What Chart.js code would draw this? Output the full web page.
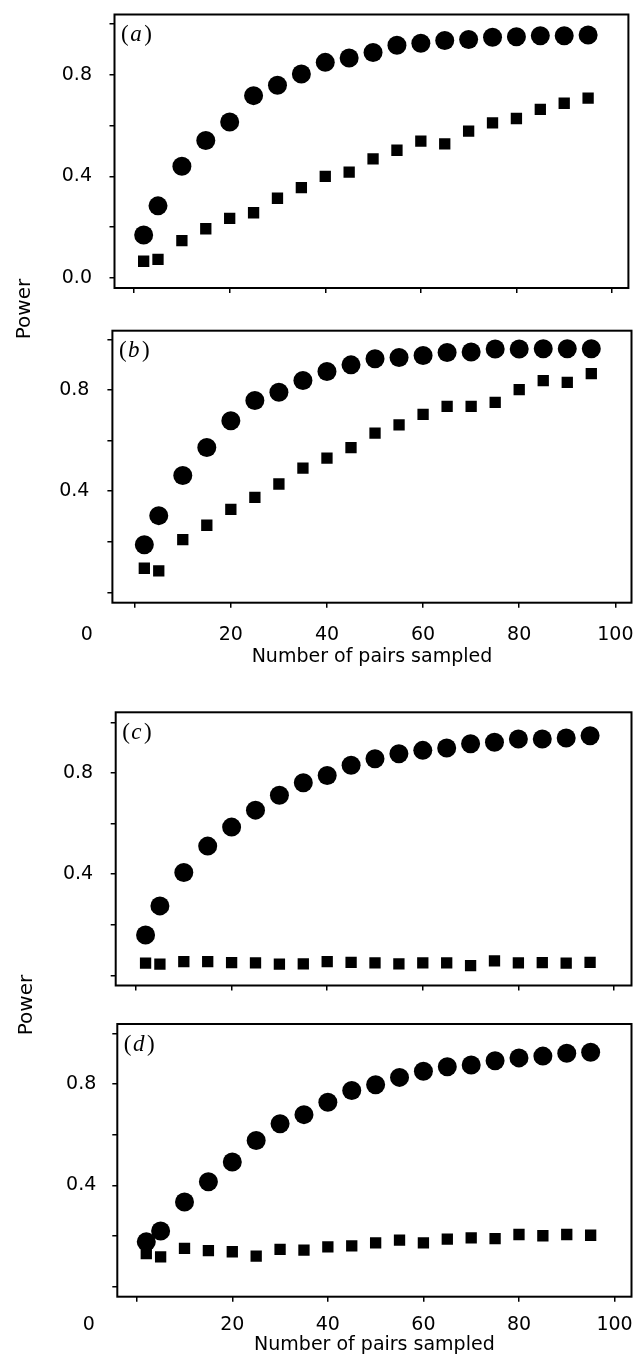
<!DOCTYPE html>
<html>
<head>
<meta charset="utf-8">
<script src="https://cdn.jsdelivr.net/npm/chart.js@4/dist/chart.umd.min.js"></script>
<style>
html, body { margin: 0; padding: 0; background: #fff; }
#page { position: relative; width: 641px; height: 1363px; background: #fff; overflow: hidden; }
#page canvas { position: absolute; left: 0; }
.ylab { position: absolute; width: 100px; height: 20px; line-height: 20px; text-align: center;
        font-family: 'DejaVu Sans', sans-serif; font-size: 20px; color: #000; white-space: nowrap;
        transform: rotate(-90deg); }
</style>
</head>
<body>
<div id="page">
  <canvas id="ca"></canvas>
  <canvas id="cb"></canvas>
  <canvas id="cc"></canvas>
  <canvas id="cd"></canvas>
  <div class="ylab" style="left:-27px; top:298.5px;">Power</div>
  <div class="ylab" style="left:-25.5px; top:995px;">Power</div>
</div>
<script>
// ---------------- data ----------------
const pairsSampled = [2, 5, 10, 15, 20, 25, 30, 35, 40, 45, 50, 55, 60, 65, 70, 75, 80, 85, 90, 95];

const circlesA = [0.169, 0.284, 0.440, 0.541, 0.614, 0.718, 0.759, 0.803, 0.849, 0.866, 0.888, 0.916, 0.924, 0.935, 0.939, 0.948, 0.950, 0.954, 0.954, 0.957];
const squaresA = [0.066, 0.073, 0.147, 0.194, 0.235, 0.257, 0.314, 0.356, 0.400, 0.417, 0.469, 0.503, 0.539, 0.528, 0.578, 0.611, 0.628, 0.664, 0.688, 0.708];

const circlesB = [0.188, 0.303, 0.462, 0.572, 0.678, 0.758, 0.791, 0.837, 0.873, 0.899, 0.923, 0.928, 0.936, 0.948, 0.950, 0.962, 0.962, 0.963, 0.963, 0.963];
const squaresB = [0.095, 0.085, 0.208, 0.265, 0.328, 0.375, 0.428, 0.491, 0.530, 0.572, 0.629, 0.662, 0.703, 0.735, 0.735, 0.751, 0.801, 0.837, 0.830, 0.864];

const circlesC = [0.160, 0.275, 0.407, 0.511, 0.586, 0.653, 0.712, 0.761, 0.790, 0.830, 0.856, 0.876, 0.889, 0.898, 0.915, 0.921, 0.934, 0.934, 0.938, 0.947];
const squaresC = [0.049, 0.045, 0.055, 0.055, 0.051, 0.050, 0.045, 0.046, 0.055, 0.052, 0.050, 0.046, 0.050, 0.050, 0.039, 0.058, 0.050, 0.051, 0.049, 0.052];

const circlesD = [0.177, 0.220, 0.334, 0.414, 0.492, 0.577, 0.643, 0.679, 0.728, 0.774, 0.797, 0.826, 0.850, 0.868, 0.875, 0.892, 0.903, 0.910, 0.921, 0.925];
const squaresD = [0.131, 0.118, 0.151, 0.142, 0.138, 0.121, 0.147, 0.144, 0.157, 0.161, 0.173, 0.184, 0.173, 0.188, 0.193, 0.190, 0.206, 0.201, 0.206, 0.203];

const xTickValues = [0, 20, 40, 60, 80, 100];
const xTickLabels = ['', '20', '40', '60', '80', '100'];
const yTickValues = [0, 0.2, 0.4, 0.6, 0.8, 1.0];
const yTickLabelsFirst = ['0.0', '', '0.4', '', '0.8', ''];
const yTickLabelsOther = ['', '', '0.4', '', '0.8', ''];
const strayZeroLabel = '0';
const xAxisTitle = 'Number of pairs sampled';
const panelLetters = ['a', 'b', 'c', 'd'];

// ---------------- layout (page pixels) ----------------
const FONT = { family: "'DejaVu Sans', sans-serif", size: 19 };
const LINE_HALF = FONT.size * 1.2 / 2;
const TICK_LEN = 5;

const panels = [
  { id: 'ca', letter: panelLetters[0], circles: circlesA, squares: squaresA, yLabels: yTickLabelsFirst, xLabels: null,
    canvasTop: 0, canvasH: 300, box: { l: 114.5, r: 628.4, t: 14.5, b: 288 },
    x0: 134.1, x100: 612.0, y0: 278.0, y1: 24.0, yPad: 17.5 },
  { id: 'cb', letter: panelLetters[1], circles: circlesB, squares: squaresB, yLabels: yTickLabelsOther, xLabels: xTickLabels,
    canvasTop: 300, canvasH: 372, box: { l: 112.4, r: 635.7, t: 330.7, b: 602.7 },
    x0: 134.9, x100: 619.4, y0: 592.3, y1: 339.3, yPad: 18, xPad: 15.9, titleCenter: 657, zeroOff: -48 },
  { id: 'cc', letter: panelLetters[2], circles: circlesC, squares: squaresC, yLabels: yTickLabelsOther, xLabels: null,
    canvasTop: 680, canvasH: 315, box: { l: 115.7, r: 633.7, t: 712.3, b: 986.7 },
    x0: 136.1, x100: 616.1, y0: 976.7, y1: 722.3, yPad: 17.5 },
  { id: 'cd', letter: panelLetters[3], circles: circlesD, squares: squaresD, yLabels: yTickLabelsOther, xLabels: xTickLabels,
    canvasTop: 995, canvasH: 368, box: { l: 117.3, r: 638.6, t: 1024, b: 1296.7 },
    x0: 137.0, x100: 621.4, y0: 1286.7, y1: 1033.3, yPad: 16, xPad: 11.9, titleCenter: 1345.5, zeroOff: -48 }
];

// ---------------- plugin: frame, panel letter, stray "0" ----------------
const framePlugin = {
  id: 'frame',
  beforeDatasetsDraw(chart, args, o) {
    const { ctx, chartArea: a } = chart;
    ctx.save();
    ctx.strokeStyle = '#000';
    ctx.lineWidth = 2;
    ctx.strokeRect(a.left, a.top, a.right - a.left, a.bottom - a.top);
    ctx.restore();
  },
  afterDraw(chart, args, o) {
    const { ctx, chartArea: a } = chart;
    ctx.save();
    ctx.fillStyle = '#000';
    ctx.textBaseline = 'alphabetic';
    ctx.textAlign = 'left';
    const upright = "23px 'Liberation Serif', serif";
    const italic = "italic 23px 'Liberation Serif', serif";
    let x = a.left + 6.5;
    const y = a.top + 26.5;
    ctx.font = upright;
    ctx.fillText('(', x, y);
    x += ctx.measureText('(').width + 1.5;
    ctx.font = italic;
    ctx.fillText(o.letter, x, y);
    x += ctx.measureText(o.letter).width + 2.5;
    ctx.font = upright;
    ctx.fillText(')', x, y);
    if (o.zero) {
      ctx.font = FONT.size + "px " + FONT.family;
      ctx.textAlign = 'center';
      ctx.textBaseline = 'middle';
      const zx = chart.scales.x.getPixelForValue(0) + o.zeroOff;
      const zy = a.bottom + TICK_LEN + o.xPad + LINE_HALF;
      ctx.fillText(strayZeroLabel, zx, zy);
    }
    ctx.restore();
  }
};

function makeChart(p) {
  const canvas = document.getElementById(p.id);
  canvas.width = 641;
  canvas.height = p.canvasH;
  canvas.style.width = '641px';
  canvas.style.height = p.canvasH + 'px';
  canvas.style.top = p.canvasTop + 'px';

  const boxTop = p.box.t - p.canvasTop;
  const boxBottom = p.box.b - p.canvasTop;
  const hasTitle = p.titleCenter !== undefined;
  let xHeight, padBottom;
  if (hasTitle) {
    const titleBottom = p.titleCenter - p.canvasTop + LINE_HALF;
    xHeight = titleBottom - boxBottom;
    padBottom = p.canvasH - titleBottom;
  } else {
    xHeight = p.canvasH - boxBottom;
    padBottom = 0;
  }
  const xMin = (p.box.l - p.x0) / (p.x100 - p.x0) * 100;
  const xMax = (p.box.r - p.x0) / (p.x100 - p.x0) * 100;
  const yMin = (p.y0 - p.box.b) / (p.y0 - p.y1);
  const yMax = (p.y0 - p.box.t) / (p.y0 - p.y1);

  const gridOpts = { drawOnChartArea: false, drawTicks: true, tickLength: TICK_LEN, color: '#000', lineWidth: 1.5 };

  return new Chart(canvas, {
    type: 'scatter',
    data: {
      datasets: [
        { label: 'squares', data: pairsSampled.map((x, i) => ({ x: x, y: p.squares[i] })),
          pointStyle: 'rect', pointRadius: 8, backgroundColor: '#000', borderColor: '#000', borderWidth: 0, order: 0 },
        { label: 'circles', data: pairsSampled.map((x, i) => ({ x: x, y: p.circles[i] })),
          pointStyle: 'circle', pointRadius: 9.5, backgroundColor: '#000', borderColor: '#000', borderWidth: 0, order: 1 }
      ]
    },
    options: {
      responsive: false,
      animation: false,
      events: [],
      layout: { padding: { top: boxTop, right: 641 - p.box.r, bottom: padBottom, left: 0 } },
      plugins: {
        legend: { display: false },
        tooltip: { enabled: false },
        frame: { letter: p.letter, zero: hasTitle, zeroOff: p.zeroOff || 0, xPad: p.xPad || 0 }
      },
      scales: {
        x: {
          type: 'linear', position: 'bottom', bounds: 'data', min: xMin, max: xMax,
          afterBuildTicks: s => { s.ticks = xTickValues.map(v => ({ value: v })); },
          afterFit: s => { s.height = xHeight; s.paddingLeft = 0; s.paddingRight = 0; s.paddingTop = 0; s.paddingBottom = 0; },
          ticks: { autoSkip: false, maxRotation: 0, minRotation: 0, padding: p.xPad || 0, font: FONT, color: '#000',
                   callback: v => p.xLabels ? p.xLabels[xTickValues.indexOf(v)] : '' },
          grid: gridOpts,
          border: { display: false },
          title: hasTitle ? { display: true, text: xAxisTitle, font: FONT, color: '#000', padding: { top: 0, bottom: 0 } }
                          : { display: false }
        },
        y: {
          type: 'linear', position: 'left', bounds: 'data', min: yMin, max: yMax,
          afterBuildTicks: s => { s.ticks = yTickValues.map(v => ({ value: v })); },
          afterFit: s => { s.width = p.box.l; s.paddingLeft = 0; s.paddingRight = 0; s.paddingTop = 0; s.paddingBottom = 0; },
          ticks: { autoSkip: false, padding: p.yPad, font: FONT, color: '#000',
                   callback: v => { const i = yTickValues.findIndex(t => Math.abs(t - v) < 1e-9); return i >= 0 ? p.yLabels[i] : ''; } },
          grid: gridOpts,
          border: { display: false }
        }
      }
    },
    plugins: [framePlugin]
  });
}

panels.forEach(makeChart);
</script>
</body>
</html>
